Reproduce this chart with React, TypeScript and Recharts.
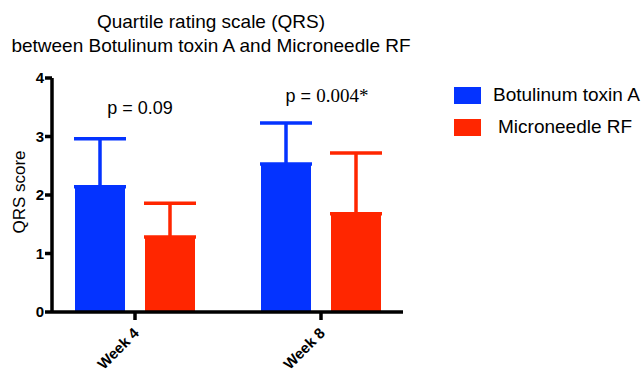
import React from 'react';
import { BarChart, Bar, XAxis, YAxis, ErrorBar, ReferenceDot } from 'recharts';

const categories = ['Week 4', 'Week 8'];
const botoxMean = [2.14, 2.53];
const botoxSd = [0.82, 0.7];
const rfMean = [1.28, 1.68];
const rfSd = [0.58, 1.04];
const pLabels = ['p = 0.09', 'p = 0.004*'];
const pLabelY = [3.38, 3.59];
const yTicks = [0, 1, 2, 3, 4];

const BLUE = '#0433FF';
const RED = '#FF2600';
const FONT = '"Liberation Sans", Arial, Helvetica, sans-serif';

const data = categories.map((name, i) => ({
  name,
  botox: botoxMean[i],
  botoxErr: [0, botoxSd[i]],
  rf: rfMean[i],
  rfErr: [0, rfSd[i]],
}));

const WeekTick = (props: any) => {
  const { x, y, payload } = props;
  return (
    <g transform={`translate(${x + 5},${y + 12})`}>
      <text
        textAnchor="end"
        transform="rotate(-45)"
        fontFamily={FONT}
        fontWeight="bold"
        fontSize={15}
        fill="#000"
      >
        {payload.value}
      </text>
    </g>
  );
};

// legend drawn as plain html so it doesn't eat plot space
const LegendBox = () => (
  <div style={{ position: 'absolute', left: 454, top: 79, fontFamily: FONT, fontSize: 19, color: '#000' }}>
    {[
      { label: 'Botulinum toxin A', color: BLUE, indent: 0 },
      { label: 'Microneedle RF', color: RED, indent: 5 },
    ].map((it) => (
      <div key={it.label} style={{ display: 'flex', alignItems: 'center', height: 32 }}>
        <span style={{ display: 'inline-block', width: 27, height: 17, background: it.color }} />
        <span style={{ marginLeft: 12 + it.indent, lineHeight: '20px' }}>{it.label}</span>
      </div>
    ))}
  </div>
);

const PLabel = (props: any) => {
  const { viewBox, value, shift } = props;
  const cx = viewBox.x + shift;
  const cy = viewBox.y;
  if (value.includes('*')) {
    return (
      <text x={cx} y={cy} textAnchor="middle" fontSize={18} fill="#000">
        <tspan fontFamily={FONT}>p = </tspan>
        <tspan fontFamily='"Liberation Serif", "Times New Roman", serif' fontSize={19}>0.004*</tspan>
      </text>
    );
  }
  return (
    <text x={cx} y={cy} textAnchor="middle" fontSize={18} fontFamily={FONT} fill="#000">
      {value}
    </text>
  );
};

export default function App() {
  return (
    <div style={{ position: 'absolute', left: 0, top: 0, width: 644, height: 375, background: '#fff' }}>
      <div
        style={{
          position: 'absolute',
          left: 0,
          top: 10,
          width: 422,
          textAlign: 'center',
          fontFamily: FONT,
          fontSize: 19,
          lineHeight: '24px',
          color: '#000',
        }}
      >
        Quartile rating scale (QRS)
        <br />
        between Botulinum toxin A and Microneedle RF
      </div>
      <LegendBox />
      <BarChart
        width={644}
        height={375}
        data={data}
        margin={{ top: 78, right: 241, bottom: 3, left: 0 }}
        barSize={50}
        barGap={20}
        barCategoryGap={33}
      >
        <XAxis
          dataKey="name"
          padding={{ left: -10, right: -11 }}
          height={60}
          axisLine={{ stroke: '#000', strokeWidth: 3.5 }}
          tickLine={{ stroke: '#000', strokeWidth: 3.5 }}
          tickSize={8}
          tick={<WeekTick />}
          interval={0}
        />
        <YAxis
          width={52}
          domain={[0, 4]}
          ticks={yTicks}
          allowDataOverflow
          axisLine={{ stroke: '#000', strokeWidth: 3.5 }}
          tickLine={{ stroke: '#000', strokeWidth: 3.5 }}
          tickSize={7}
          tickMargin={1}
          tick={{ fill: '#000', fontFamily: FONT, fontWeight: 'bold', fontSize: 15 }}
          label={{
            value: 'QRS score',
            angle: -90,
            position: 'center',
            dx: -7,
            dy: -3,
            style: { fontFamily: FONT, fontSize: 17, fill: '#000' },
          }}
        />
        <Bar dataKey="botox" name="Botulinum toxin A" fill={BLUE} isAnimationActive={false}>
          <ErrorBar dataKey="botoxErr" width={26} stroke={BLUE} strokeWidth={3.5} direction="y" />
        </Bar>
        <Bar dataKey="rf" name="Microneedle RF" fill={RED} isAnimationActive={false}>
          <ErrorBar dataKey="rfErr" width={26} stroke={RED} strokeWidth={3.5} direction="y" />
        </Bar>
        {categories.map((c, i) => (
          <ReferenceDot
            key={c}
            x={c}
            y={pLabelY[i]}
            r={0}
            stroke="none"
            fill="none"
            ifOverflow="visible"
            label={<PLabel value={pLabels[i]} shift={i === 0 ? 5 : 6} />}
          />
        ))}
      </BarChart>
    </div>
  );
}
